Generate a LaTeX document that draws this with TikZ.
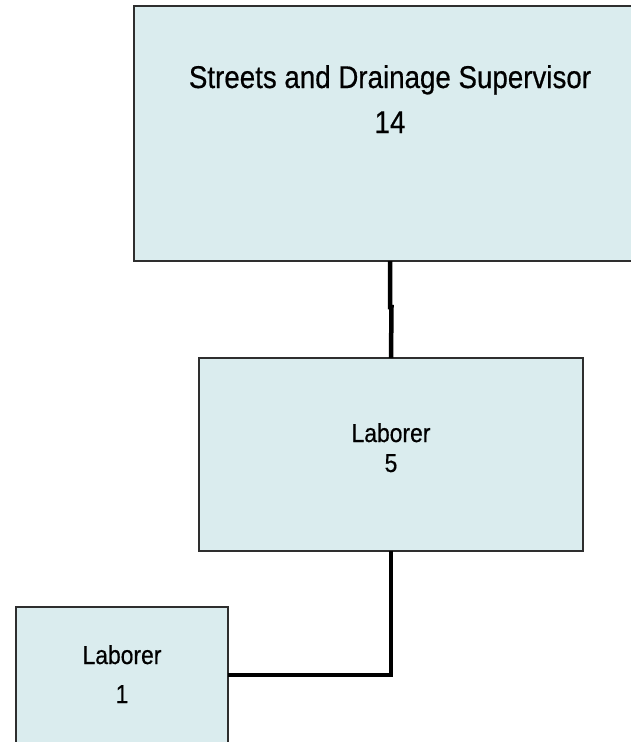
\documentclass[tikz,border=0pt]{standalone}
\usepackage{fontspec}
\setmainfont[FakeStretch=0.88,FakeBold=0.5]{Liberation Sans}
\definecolor{boxfill}{HTML}{DAECEE}
\definecolor{boxline}{HTML}{2E2E2E}
\begin{document}
\begin{tikzpicture}[x=1pt,y=-1pt,
  orgbox/.style={draw=boxline, line width=2pt, fill=boxfill, rectangle,
    inner sep=0pt, outer sep=0pt},
  link/.style={draw=black, line width=4.5pt, line join=miter},
  bigtext/.style={anchor=base, inner sep=0pt, font=\fontsize{31.5}{36}\selectfont},
  smalltext/.style={anchor=base, inner sep=0pt, font=\fontsize{26}{30}\selectfont}]
  \useasboundingbox (0,0) rectangle (631,742);
  \clip (0,0) rectangle (631,742);

  % boxes
  \node[orgbox, minimum width=512pt, minimum height=255pt] (sup) at (390,133.5) {};
  \node[orgbox, minimum width=384pt, minimum height=193pt] (lab5) at (391,454.5) {};
  \node[orgbox, minimum width=212pt, minimum height=136pt] (lab1) at (122,675) {};

  % reporting lines
  \draw[link] (sup.south) -- ++(0,46) -- ++(1.5,0) -- (lab5.north);
  \draw[link] (lab5.south) |- (lab1.east);

  % labels
  \node[bigtext] (supname) at (390,88) {Streets and Drainage Supervisor};
  \node[bigtext] (supnum) at (390,133) {14};
  \node[smalltext] (lab5name) at (391,442) {Laborer};
  \node[smalltext] (lab5num) at (391,472) {5};
  \node[smalltext] (lab1name) at (122,664) {Laborer};
  \node[smalltext] (lab1num) at (122,703) {1};
\end{tikzpicture}
\end{document}
